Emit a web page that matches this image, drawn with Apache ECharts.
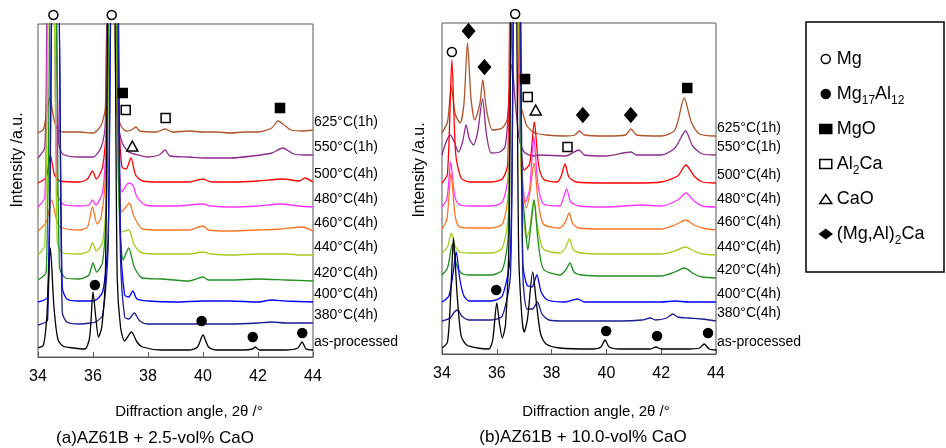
<!DOCTYPE html>
<html>
<head>
<meta charset="utf-8">
<script src="https://cdn.jsdelivr.net/npm/echarts@6/dist/echarts.min.js"></script>
<style>html,body{margin:0;background:#fff}#chart{width:946px;height:448px}</style>
</head>
<body>
<div id="chart"></div>
<script>
var FONT = 'Liberation Sans, Arial, sans-serif';

var traceLabels = ['625°C(1h)', '550°C(1h)', '500°C(4h)', '480°C(4h)', '460°C(4h)', '440°C(4h)', '420°C(4h)', '400°C(4h)', '380°C(4h)', 'as-processed'];
var phaseNames = ['Mg', 'Mg17Al12', 'MgO', 'Al2Ca', 'CaO', '(Mg,Al)2Ca'];

// (a) AZ61B + 2.5-vol% CaO  -- [2theta, intensity a.u.], off-scale peaks clipped
var a625 = [[34,224],[34.2,228],[34.32,245],[34.44,260],[34.56,240],[34.7,228],[34.9,225],[35.5,225],[36.0,224],[36.3,232],[36.45,250],[36.56,400],[36.74,400],[36.85,250],[37.0,232],[37.2,226],[37.4,227],[37.56,230],[37.7,226],[38.3,225],[38.62,228],[38.9,225],[39.5,226],[40,225],[40.5,225],[41,224],[41.5,225],[42,225],[42.5,229],[42.73,236],[42.95,232],[43.2,227],[43.6,226],[44,227]];
var a550 = [[34,199],[34.25,210],[34.38,400],[34.6,400],[34.75,215],[34.9,203],[35.5,200],[36.0,200],[36.3,210],[36.45,235],[36.56,400],[36.76,400],[36.9,240],[37.05,215],[37.3,205],[37.5,203],[38.0,200],[38.4,202],[38.62,207],[38.8,201],[39.5,200],[40,199],[41,199],[41.8,201],[42.5,204],[42.9,209],[43.3,203],[43.7,202],[44,202]];
var a500 = [[34,174],[34.3,180],[34.45,202],[34.6,182],[34.8,176],[35.5,175],[35.8,178],[35.98,186],[36.12,178],[36.35,190],[36.5,240],[36.6,400],[36.78,400],[36.9,260],[37.05,190],[37.2,188],[37.38,199],[37.55,182],[37.8,176],[38.5,175],[39.5,175],[40,178],[40.3,175],[41,175],[42,176],[42.9,178],[43.5,176],[43.7,179],[44,175]];
var a480 = [[34,150],[34.25,160],[34.4,400],[34.55,400],[34.7,165],[34.9,153],[35.5,151],[35.85,152],[35.98,157],[36.1,152],[36.35,165],[36.5,230],[36.6,400],[36.8,400],[36.92,220],[37.05,165],[37.3,174],[37.45,172],[37.6,160],[37.9,152],[38.5,151],[39,151],[40,153],[40.3,151],[41,150],[42,151],[42.8,153],[43.5,151],[44,150]];
var a460 = [[34,126],[34.3,135],[34.5,157],[34.65,140],[34.8,130],[35.5,127],[35.8,130],[35.98,150],[36.15,133],[36.3,140],[36.45,180],[36.6,400],[36.78,400],[36.9,220],[37.05,145],[37.2,150],[37.32,154],[37.5,140],[37.8,128],[38.5,127],[39.5,127],[40,131],[40.2,127],[41,126],[42,127],[42.8,128],[43.6,130],[44,126]];
var a440 = [[34,102],[34.25,112],[34.42,400],[34.55,400],[34.7,115],[34.9,104],[35.5,103],[35.85,106],[35.98,114],[36.12,106],[36.35,115],[36.5,170],[36.6,400],[36.78,400],[36.9,200],[37.05,125],[37.3,127],[37.5,112],[37.8,104],[38.5,103],[39.5,103],[40,105],[40.3,103],[41,102],[42,103],[43,103],[43.6,102],[44,102]];
var a420 = [[34,77],[34.3,85],[34.48,400],[34.62,400],[34.78,90],[35,79],[35.5,78],[35.85,82],[36.0,94],[36.13,85],[36.35,95],[36.5,160],[36.62,400],[36.8,400],[36.95,150],[37.1,97],[37.3,109],[37.5,90],[37.8,79],[38.5,78],[39.5,76],[40,80],[40.2,77],[41,77],[42,78],[43,77],[44,76]];
var a400 = [[34,55],[34.35,60],[34.55,400],[34.72,400],[34.88,70],[35.05,58],[35.5,56],[36,56],[36.35,65],[36.55,120],[36.7,400],[36.88,400],[37.0,120],[37.15,62],[37.3,60],[37.45,66],[37.6,58],[38,56],[39,55],[40,56],[41,56],[42,55],[42.5,57],[43,56],[44,55]];
var a380 = [[34,32],[34.35,37],[34.55,400],[34.72,400],[34.88,45],[35.05,35],[35.5,33],[35.9,34],[36.1,35],[36.35,42],[36.55,110],[36.68,400],[36.85,400],[37.0,100],[37.15,40],[37.3,38],[37.5,44],[37.7,36],[38,33],[39,33],[40,33],[41,33],[42,34],[42.5,35],[43,34],[44,34]];
var aAsProc = [[34,9],[34.2,12],[34.32,40],[34.45,109],[34.58,50],[34.72,18],[34.9,11],[35.3,9],[35.7,8],[35.88,20],[36.0,65],[36.1,40],[36.2,20],[36.32,30],[36.45,80],[36.58,400],[36.75,400],[36.88,80],[37.0,30],[37.15,16],[37.4,25],[37.6,15],[37.8,10],[38.5,7],[39.5,7],[39.8,10],[40.0,22],[40.2,10],[40.5,7],[41.5,7],[41.8,8],[41.9,10],[42.05,7],[43,7],[43.45,9],[43.6,15],[43.75,8],[44,7]];

// (b) AZ61B + 10.0-vol% CaO
var b625 = [[34,221],[34.2,232],[34.34,267],[34.48,240],[34.66,231],[34.8,250],[34.93,311],[35.06,255],[35.2,234],[35.38,250],[35.49,274],[35.62,245],[35.85,224],[36.2,226],[36.38,235],[36.52,300],[36.6,400],[36.75,400],[36.85,250],[36.95,241],[37.1,228],[37.4,221],[37.8,219],[38.5,218],[38.85,219],[39.01,223],[39.2,219],[40,218],[40.7,219],[40.9,225],[41.1,219],[42,218],[42.5,224],[42.84,256],[43.1,232],[43.4,220],[44,218]];
var b550 = [[34,199],[34.15,212],[34.3,219],[34.45,212],[34.6,202],[34.75,212],[34.88,229],[35.0,215],[35.15,209],[35.3,222],[35.48,255],[35.62,220],[35.8,201],[36.1,202],[36.3,207],[36.42,240],[36.55,290],[36.68,250],[36.82,215],[37.0,202],[37.3,198],[37.6,199],[38.5,198],[39.0,204],[39.2,199],[40,198],[40.9,202],[41.1,199],[42,199],[42.5,206],[42.89,223],[43.15,208],[43.5,200],[44,199]];
var b500 = [[34,171],[34.2,180],[34.36,294],[34.5,200],[34.7,176],[35,172],[35.8,172],[36.2,175],[36.4,190],[36.52,400],[36.7,400],[36.85,220],[37.0,184],[37.2,190],[37.37,232],[37.52,190],[37.7,175],[38.2,172],[38.35,178],[38.49,190],[38.63,177],[38.9,172],[40,171],[41,171],[42,172],[42.6,178],[42.9,189],[43.2,178],[43.5,172],[44,171]];
var b480 = [[34,147],[34.18,155],[34.32,192],[34.45,160],[34.6,150],[35,148],[35.8,148],[36.2,152],[36.42,180],[36.55,400],[36.72,400],[36.88,200],[37.05,152],[37.2,165],[37.35,217],[37.5,170],[37.7,150],[38.3,148],[38.42,155],[38.55,165],[38.7,152],[39,148],[40,147],[41.3,149],[42,148],[42.6,154],[42.9,161],[43.2,153],[43.5,148],[44,147]];
var b460 = [[34,125],[34.18,135],[34.33,181],[34.47,140],[34.6,128],[35,126],[35.8,126],[36.2,130],[36.42,160],[36.55,400],[36.72,400],[36.9,180],[37.08,146],[37.2,160],[37.36,191],[37.5,155],[37.7,130],[38.3,126],[38.5,132],[38.64,141],[38.78,130],[39,126],[40,125],[41,125],[42,125],[42.5,129],[42.9,134],[43.2,129],[43.5,126],[44,124]];
var b440 = [[34,101],[34.2,107],[34.34,121],[34.48,108],[34.65,102],[35,101],[35.8,101],[36.2,106],[36.42,140],[36.55,400],[36.72,400],[36.9,170],[37.08,115],[37.2,125],[37.35,154],[37.5,125],[37.7,105],[38.3,101],[38.5,106],[38.65,115],[38.8,104],[39.1,101],[40,100],[41,100],[42,100],[42.5,103],[42.88,107],[43.2,103],[43.5,100],[44,99]];
var b420 = [[34,79],[34.2,86],[34.38,110],[34.52,90],[34.7,81],[35,79],[35.8,79],[36.2,84],[36.42,120],[36.55,400],[36.75,400],[36.92,170],[37.05,125],[37.13,104],[37.25,130],[37.36,154],[37.5,115],[37.7,85],[38.3,79],[38.52,84],[38.67,91],[38.82,82],[39.1,79],[40,78],[41,78],[42,78],[42.5,82],[42.85,86],[43.2,80],[43.5,77],[44,76]];
var b400 = [[34,52],[34.25,58],[34.4,80],[34.52,102],[34.65,75],[34.8,58],[35,53],[35.8,53],[36.2,58],[36.5,100],[36.65,400],[36.82,400],[36.95,90],[37.1,69],[37.28,67],[37.46,79],[37.62,62],[37.85,54],[38.5,52],[38.95,55],[39.2,52],[40,52],[41,52],[42,52],[42.5,53],[43,52],[44,52]];
var b380 = [[34,33],[34.3,36],[34.45,42],[34.58,44],[34.72,38],[35,34],[35.8,34],[36.2,38],[36.5,80],[36.65,400],[36.82,400],[36.95,80],[37.1,45],[37.3,45],[37.48,52],[37.65,40],[37.9,34],[38.5,33],[39.5,33],[40.5,33],[41.3,34],[41.6,36],[41.8,34],[42.2,36],[42.43,40],[42.6,37],[43,36],[43.5,35],[44,33]];
var bAsProc = [[34,6],[34.2,12],[34.32,60],[34.42,116],[34.55,60],[34.7,18],[34.9,9],[35.3,6],[35.7,5],[35.85,14],[36.0,51],[36.1,30],[36.2,16],[36.32,30],[36.45,120],[36.55,400],[36.68,400],[36.8,100],[36.92,35],[37.0,22],[37.12,35],[37.31,82],[37.45,50],[37.6,20],[37.8,10],[38.3,6],[39.5,5],[39.8,7],[39.95,14],[40.1,7],[40.5,5],[41.6,5],[41.81,7],[42,5],[43,5],[43.4,6],[43.57,10],[43.75,5],[44,4]];

// phase markers [2theta, intensity]
var aMg = [[34.56,342],[36.68,342]];
var aMg17Al12 = [[36.07,72],[39.95,36],[41.81,20],[43.61,24]];
var aMgO = [[37.08,264],[42.8,249]];
var aAl2Ca = [[37.19,247],[38.64,239]];
var aCaO = [[37.43,211]];
var bMg = [[36.67,340],[34.36,302]];
var bMg17Al12 = [[35.98,64],[39.99,23],[41.85,18],[43.71,21]];
var bMgO = [[37.03,275],[42.95,266]];
var bAl2Ca = [[37.13,257],[38.58,207]];
var bCaO = [[37.42,244]];
var bMgAl2Ca = [[34.97,323],[35.55,287],[39.14,239],[40.89,239]];

var colors = ['#b0542a', '#8e2c8e', '#ff0000', '#ff33ff', '#ff7424', '#a3cc1c', '#1f8f1f', '#0000ff', '#1a1a96', '#000000'];
var markStyle = {
    'Mg': { symbol: 'circle', size: 9, fill: '#fff' },
    'Mg17Al12': { symbol: 'circle', size: 9, fill: '#000' },
    'MgO': { symbol: 'rect', size: 9, fill: '#000' },
    'Al2Ca': { symbol: 'rect', size: 9, fill: '#fff' },
    'CaO': { symbol: 'triangle', size: [11, 10], fill: '#fff' },
    '(Mg,Al)2Ca': { symbol: 'diamond', size: [12, 14], fill: '#000' }
};

function traceSeries(data, i, g) {
    return {
        type: 'line', name: traceLabels[i], xAxisIndex: g, yAxisIndex: g,
        data: data, showSymbol: false, symbol: 'none', silent: true, z: 2,
        smooth: 0.25,
        lineStyle: { color: colors[i], width: 1.3 },
        itemStyle: { color: colors[i] },
        endLabel: { show: true, formatter: traceLabels[i], color: '#000', fontSize: 14, fontFamily: FONT, offset: [-7, -8] }
    };
}

function markSeries(name, data, g) {
    var s = markStyle[name];
    return {
        type: 'scatter', name: name, xAxisIndex: g, yAxisIndex: g, data: data,
        symbol: s.symbol, symbolSize: s.size, clip: false, silent: true, z: 5,
        itemStyle: { color: s.fill, borderColor: '#000', borderWidth: 1.5, opacity: 1 }
    };
}

var aTraces = [a625, a550, a500, a480, a460, a440, a420, a400, a380, aAsProc];
var bTraces = [b625, b550, b500, b480, b460, b440, b420, b400, b380, bAsProc];

var series = [];
aTraces.forEach(function (d, i) { series.push(traceSeries(d, i, 0)); });
bTraces.forEach(function (d, i) { series.push(traceSeries(d, i, 1)); });
series.push(markSeries('Mg', aMg, 0));
series.push(markSeries('Mg17Al12', aMg17Al12, 0));
series.push(markSeries('MgO', aMgO, 0));
series.push(markSeries('Al2Ca', aAl2Ca, 0));
series.push(markSeries('CaO', aCaO, 0));
series.push(markSeries('Mg', bMg, 1));
series.push(markSeries('Mg17Al12', bMg17Al12, 1));
series.push(markSeries('MgO', bMgO, 1));
series.push(markSeries('Al2Ca', bAl2Ca, 1));
series.push(markSeries('CaO', bCaO, 1));
series.push(markSeries('(Mg,Al)2Ca', bMgAl2Ca, 1));

function xAxisOf(g) {
    return {
        type: 'value', gridIndex: g, min: 34, max: 44, interval: 2,
        splitLine: { show: false },
        axisLine: { lineStyle: { color: '#595959', width: 1 } },
        axisTick: { inside: true, length: 5, lineStyle: { color: '#595959' } },
        axisLabel: { fontSize: 16, color: '#000', fontFamily: FONT, margin: 12 }
    };
}
function yAxisOf(g, max) {
    return {
        type: 'value', gridIndex: g, min: 0, max: max,
        axisLine: { show: false }, axisTick: { show: false },
        axisLabel: { show: false }, splitLine: { show: false }
    };
}

function textEl(str, x, y, size, rot) {
    return {
        type: 'text', x: x, y: y, rotation: rot || 0, silent: true,
        style: { text: str, fontSize: size, fontFamily: FONT, fill: '#000', align: 'center', verticalAlign: 'middle' }
    };
}

var myChart = echarts.init(document.getElementById('chart'));
var option = {
    animation: false,
    backgroundColor: '#fff',
    grid: [
        { left: 38, top: 24, width: 275, height: 333, show: true, borderColor: '#595959', borderWidth: 1 },
        { left: 442, top: 23, width: 274, height: 331, show: true, borderColor: '#595959', borderWidth: 1 }
    ],
    xAxis: [xAxisOf(0), xAxisOf(1)],
    yAxis: [yAxisOf(0, 333), yAxisOf(1, 331)],
    legend: {
        data: phaseNames, orient: 'vertical', left: 814, top: 43,
        itemWidth: 12, itemHeight: 9, itemGap: 11, selectedMode: false,
        itemStyle: { borderWidth: 1.5, borderColor: '#000' },
        formatter: function (name) {
            if (name === 'Mg17Al12') return 'Mg{s|17}Al{s|12}';
            if (name === 'Al2Ca') return 'Al{s|2}Ca';
            if (name === '(Mg,Al)2Ca') return '(Mg,Al){s|2}Ca';
            return name;
        },
        textStyle: {
            fontSize: 18, color: '#000', fontFamily: FONT, lineHeight: 22,
            rich: { s: { fontSize: 12, fontFamily: FONT, color: '#000', verticalAlign: 'bottom', lineHeight: 26 } }
        }
    },
    graphic: [
        { type: 'rect', silent: true, shape: { x: 806, y: 22, width: 138, height: 250 }, style: { fill: 'none', stroke: '#000', lineWidth: 1.5 } },
        textEl('Intensity /a.u.', 18, 160, 16, Math.PI / 2),
        textEl('Intensity /a.u.', 420, 170, 16, Math.PI / 2),
        textEl('Diffraction angle, 2θ /°', 189, 412, 15),
        textEl('Diffraction angle, 2θ /°', 596, 412, 15),
        textEl('(a)AZ61B + 2.5-vol% CaO', 155, 438, 17),
        textEl('(b)AZ61B + 10.0-vol% CaO', 583, 437, 17)
    ],
    series: series
};
myChart.setOption(option);
</script>
</body>
</html>
